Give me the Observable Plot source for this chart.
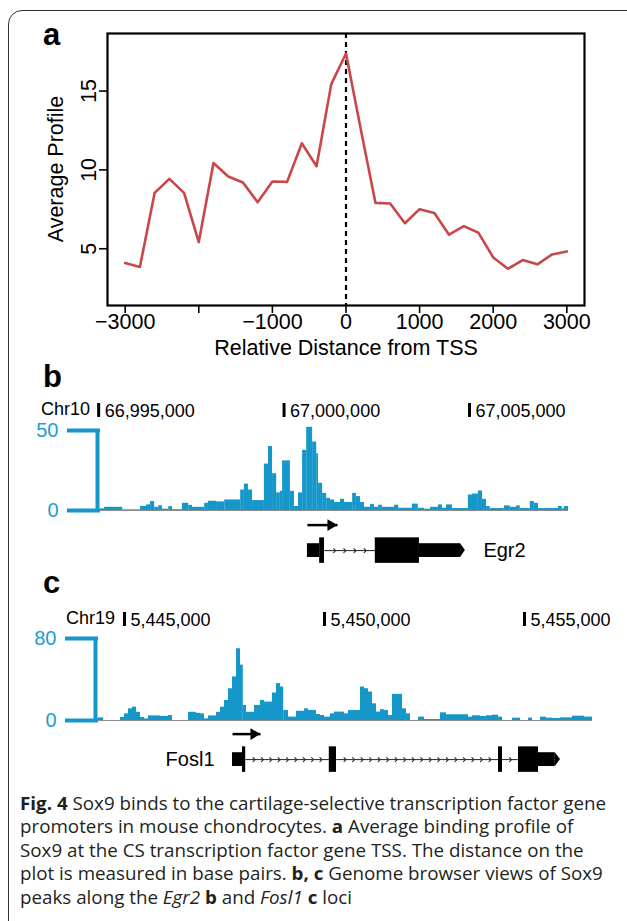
<!DOCTYPE html>
<html><head><meta charset="utf-8">
<script src="https://cdn.jsdelivr.net/npm/d3@7"></script>
<script src="https://cdn.jsdelivr.net/npm/@observablehq/plot@0.6"></script>
<style>
html,body{margin:0;padding:0;background:#fff;}
body{width:627px;height:921px;overflow:hidden;position:relative;font-family:"Liberation Sans",Arial,Helvetica,sans-serif;color:#000;}
.abs{position:absolute;}
.plot{position:absolute;left:0;}
#border{left:8px;top:10px;width:700px;height:1000px;border:1.6px solid #333;border-radius:14px;box-sizing:border-box;pointer-events:none;}
.letter{font-weight:bold;font-size:31px;line-height:1;}
.chr{font-size:18px;line-height:1;}
#ylab{left:57px;top:169px;font-size:21.5px;line-height:1;white-space:nowrap;transform:translate(-50%,-50%) rotate(-90deg);}
#caption{left:20px;top:791px;font-family:"Open Sans",sans-serif;font-size:18.5px;line-height:23.4px;color:#231f20;}
#caption .ln{display:block;width:max-content;white-space:nowrap;transform-origin:0 0;}
#caption b{font-weight:700;}
</style></head><body>
<div id="border" class="abs"></div>
<div class="abs letter" style="left:43px;top:19px;">a</div>
<div class="abs letter" style="left:43px;top:361px;">b</div>
<div class="abs letter" style="left:43px;top:567px;">c</div>
<div id="ylab" class="abs">Average Profile</div>
<div class="abs chr" style="left:41px;top:400px;">Chr10</div>
<div class="abs chr" style="left:66px;top:609px;">Chr19</div>
<div id="caption" class="abs">
<div class="ln"><b>Fig. 4</b> Sox9 binds to the cartilage-selective transcription factor gene</div>
<div class="ln">promoters in mouse chondrocytes. <b>a</b> Average binding profile of</div>
<div class="ln">Sox9 at the CS transcription factor gene TSS. The distance on the</div>
<div class="ln">plot is measured in base pairs. <b>b, c</b> Genome browser views of Sox9</div>
<div class="ln">peaks along the <i>Egr2</i> <b>b</b> and <i>Fosl1</i> <b>c</b> loci</div>
</div>
<script>
// ---------------- Panel a data ----------------
const distance = [-3000,-2800,-2600,-2400,-2200,-2000,-1800,-1600,-1400,-1200,-1000,-800,-600,-400,-200,0,200,400,600,800,1000,1200,1400,1600,1800,2000,2200,2400,2600,2800,3000];
const avgProfile = [4.09,3.84,8.54,9.43,8.54,5.42,10.44,9.58,9.2,7.95,9.26,9.24,11.69,10.23,15.44,17.38,12.6,7.91,7.87,6.62,7.51,7.26,5.89,6.43,6.01,4.45,3.73,4.28,4.01,4.64,4.83];
const tssLine = [0];
const xTicks = [-3000,-2000,-1000,0,1000,2000,3000];
const xTickLabels = ["\u22123000","","\u22121000","0","1000","2000","3000"];
const yTicks = [5,10,15];

// ---------------- Panel b data (Egr2, chr10) ----------------
const egr2Base = 66995000;
const egr2Edges = [50,160,650,1130,1290,1400,1510,1620,1720,1890,1990,2260,2430,2530,2860,2960,3180,3400,3830,3930,4040,4150,4470,4580,4690,4800,4900,4960,5170,5280,5390,5500,5610,5770,5880,5930,6040,6150,6250,6360,6520,6630,6850,6950,7060,7170,7330,7440,7550,7650,7980,8090,8460,8620,8790,8950,9160,9270,9380,9540,9970,10080,10240,10350,10460,10560,10940,11100,11270,11370,11640,11750,11860,12400,12500,12560,12670];
const egr2Values = [1,2,0.4,2.5,3.5,5.6,2,3,0.8,2.4,0.5,4.5,3.2,2,4.5,5.8,5.4,6.6,12.8,16.5,12.8,6.2,29,40,23,11,12,31,12,2.5,11,37.6,52,42.8,35.5,17,10.7,7.6,6.6,5,7,5,10.7,8.7,5,2,3.7,2,3.3,2,3.3,1.4,4,1.4,0.8,2,3.5,1.4,3.5,1.2,9.7,10.3,12.2,7,2.5,1.2,2.9,2,2.9,1.2,5.6,4.5,1.2,2.5,1,2.5];
const egr2Ticks = [66995000,67000000,67005000];
const egr2Scale = [0,50];
const egr2Exons = [[5630,5960,"utr"],[5960,6090,"cds"],[7460,8650,"cds"],[8650,9890,"utr"]];
const egr2Arrow = [5630,6440];
const egr2Name = "Egr2";

// ---------------- Panel c data (Fosl1, chr19) ----------------
const fosl1Base = 5445000;
const fosl1Edges = [-650,-520,-100,0,100,200,300,400,500,600,900,1100,1200,1600,1800,1900,2000,2100,2300,2400,2500,2600,2700,2800,2900,2970,3050,3250,3400,3500,3700,3800,3900,3980,4100,4300,4500,4600,4800,4900,5000,5150,5250,5500,5600,5900,6000,6100,6200,6300,6400,6500,6600,6700,6950,7050,7150,7350,7500,7900,8050,8600,8700,8900,9050,9200,9350,9450,9700,9900,10100,10200,10400,10550,10700,10900,11200,11500,11700];
const fosl1Values = [2.6,0,3,6.5,11.4,13,8,3,1.5,4.5,4,4.9,0,8,7,6.5,1.6,4.5,8,13,19.6,31,42.5,70,54,14.7,8,14.7,19.6,18,26.8,36,32.7,9.8,3.3,9,11.4,9.8,5.9,4.9,3.3,6.5,8.2,6.5,9.8,32.7,31,27.8,16.3,8.2,10.5,9.8,4.9,25.5,11.4,6.5,0,3.3,1,7.5,5.6,3.3,4.6,3.9,4.6,5.2,3.3,0,2.3,0,2.3,0,3.3,2.3,2,2.6,4.2,3.3];
const fosl1Ticks = [5445000,5450000,5455000];
const fosl1Scale = [0,80];
const fosl1Exons = [[2700,2950,"utr"],[2950,3030,"cds"],[5120,5300,"cds"],[9350,9450,"cds"],[9850,10350,"cds"],[10350,10900,"utr"]];
const fosl1Arrow = [2700,3400];
const fosl1Name = "Fosl1";

// ---------------- styling ----------------
const FONT = '"Liberation Sans", Arial, Helvetica, sans-serif';
const RED = "#c9474a";
const BLUE = "#1597c9";
const BLUE_TXT = "#1a9dd2";
const svgStyle = (fs) => `background: transparent; overflow: visible; font-family: ${FONT}; font-size: ${fs}px; color: #000;`;

function place(node, top) {
  node.classList.add("plot");
  node.style.top = top + "px";
  document.body.insertBefore(node, document.getElementById("border"));
}

// ---------------- Panel a ----------------
const profile = distance.map((d, i) => ({x: d, y: avgProfile[i]}));
place(Plot.plot({
  width: 627, height: 360,
  marginTop: 33, marginBottom: 55, marginLeft: 107, marginRight: 43,
  style: svgStyle(21),
  x: {domain: [-3240, 3240]},
  y: {domain: [1.4, 18.65]},
  marks: [
    Plot.ruleX(tssLine, {stroke: "#000", strokeWidth: 2.2, strokeDasharray: "5,4"}),
    Plot.line(profile, {x: "x", y: "y", stroke: RED, strokeWidth: 2.6}),
    Plot.frame({stroke: "#000", strokeWidth: 2.2}),
    Plot.axisX({ticks: xTicks, tickFormat: d => xTickLabels[xTicks.indexOf(d)], tickSize: 8, tickPadding: 0, strokeWidth: 1.6, fontSize: 21.5, label: null}),
    Plot.axisY({ticks: yTicks, tickRotate: -90, tickSize: 8, tickPadding: 4, strokeWidth: 1.6, fontSize: 21.5, label: null}),
    Plot.text(["Relative Distance from TSS"], {text: d => d, frameAnchor: "bottom", dy: 49, fontSize: 21.5})
  ]
}), 0);

// ---------------- genome browser helpers ----------------
function rulerPlot(ticks, domain, mL, mR) {
  return Plot.plot({
    width: 627, height: 20, marginTop: 3, marginBottom: 3, marginLeft: mL, marginRight: mR,
    style: svgStyle(18),
    x: {domain, axis: null},
    marks: [
      Plot.tickX(ticks, {x: d => d, stroke: "#000", strokeWidth: 3}),
      Plot.text(ticks, {x: d => d, text: d => d3.format(",")(d), frameAnchor: "bottom", lineAnchor: "bottom", textAnchor: "start", dx: 6, dy: -1, fontSize: 18})
    ]
  });
}

function trackPlot(base, edges, values, scale, domain, mL, mR, h) {
  const bars = values.map((v, i) => ({x1: base + edges[i], x2: base + edges[i + 1], v}));
  return Plot.plot({
    width: 627, height: h + 10, marginTop: 6, marginBottom: 4, marginLeft: mL, marginRight: mR,
    style: svgStyle(20),
    x: {domain, axis: null},
    y: {domain: scale},
    marks: [
      Plot.ruleY([scale[0]], {stroke: "#8c8c8c", strokeWidth: 1.2}),
      Plot.rect(bars, {x1: "x1", x2: "x2", y1: () => 0, y2: "v", fill: BLUE}),
      Plot.ruleX([domain[0]], {stroke: BLUE, strokeWidth: 4, dx: -3}),
      Plot.axisY({ticks: scale, tickSize: 33, tickPadding: 9, strokeWidth: 4, color: BLUE_TXT, stroke: BLUE, fontSize: 20, label: null})
    ]
  });
}

function genePlot(base, exons, arrow, name, side, step, domain, mL, mR) {
  const half = k => k === "cds" ? 0.5 : 0.27;
  const ex = exons.map(([s, e, k]) => ({x1: base + s, x2: base + e, kind: k}));
  const tipLen = 130;
  const last = ex[ex.length - 1];
  const bodies = ex.map((d, i) => i === ex.length - 1 ? {...d, x2: d.x2 - tipLen} : d);
  const tip = [{x: last.x2 - tipLen, h: half(last.kind)}, {x: last.x2, h: 0}];
  const intronPts = [];
  for (let i = 1; i < ex.length; i++) {
    const a = ex[i - 1].x2, b = ex[i].x1;
    if (b > a) {
      const n = Math.max(2, Math.round((b - a) / step));
      for (let k = 0; k <= n; k++) intronPts.push({x: a + (b - a) * k / n, y: 0, id: i});
    }
  }
  const arr = [{x1: base + arrow[0], x2: base + arrow[1], y: 1}];
  const right = side === "right";
  const labelX = right ? last.x2 : ex[0].x1;
  return Plot.plot({
    width: 627, height: 60, marginTop: 4.5, marginBottom: 4.5, marginLeft: mL, marginRight: mR,
    style: svgStyle(20),
    x: {domain, axis: null},
    y: {domain: [-0.8, 1.2], axis: null},
    marks: [
      Plot.line(intronPts, {x: "x", y: "y", z: "id", stroke: "#222", strokeWidth: 1, markerMid: "arrow"}),
      Plot.rect(bodies, {x1: "x1", x2: "x2", y1: d => -half(d.kind), y2: d => half(d.kind), fill: "#000"}),
      Plot.areaY(tip, {x: "x", y1: d => -d.h, y2: d => d.h, fill: "#000"}),
      Plot.link(arr, {x1: "x1", x2: "x2", y1: "y", y2: "y", stroke: "#000", strokeWidth: 2.5}),
      Plot.dot(arr, {x: "x2", y: "y", symbol: "triangle", r: 4.3, rotate: 90, fill: "#000", stroke: null, dx: -6.7}),
      Plot.text([name], {x: () => labelX, y: () => 0, text: d => d, dx: right ? 18 : -18, textAnchor: right ? "start" : "end", fontSize: 20})
    ]
  });
}

// ---------------- Panel b ----------------
const domB = [egr2Base + egr2Edges[0], egr2Base + egr2Edges[egr2Edges.length - 1]];
place(rulerPlot(egr2Ticks, domB, 100, 59), 400);
place(trackPlot(egr2Base, egr2Edges, egr2Values, egr2Scale, domB, 100, 59, 80), 424);
place(genePlot(egr2Base, egr2Exons, egr2Arrow, egr2Name, "right", 275, domB, 100, 59), 515);

// ---------------- Panel c ----------------
const domC = [fosl1Base + fosl1Edges[0], fosl1Base + fosl1Edges[fosl1Edges.length - 1]];
place(rulerPlot(fosl1Ticks, domC, 98, 35), 609);
place(trackPlot(fosl1Base, fosl1Edges, fosl1Values, fosl1Scale, domC, 98, 35, 82), 632);
place(genePlot(fosl1Base, fosl1Exons, fosl1Arrow, fosl1Name, "left", 210, domC, 98, 35), 724);

// ---------------- caption fit ----------------
const lines = document.querySelectorAll("#caption .ln");
const w0 = lines[0].getBoundingClientRect().width;
const k = 586 / w0;
lines.forEach(l => { l.style.transform = `scaleX(${k})`; });
</script>
</body></html>
